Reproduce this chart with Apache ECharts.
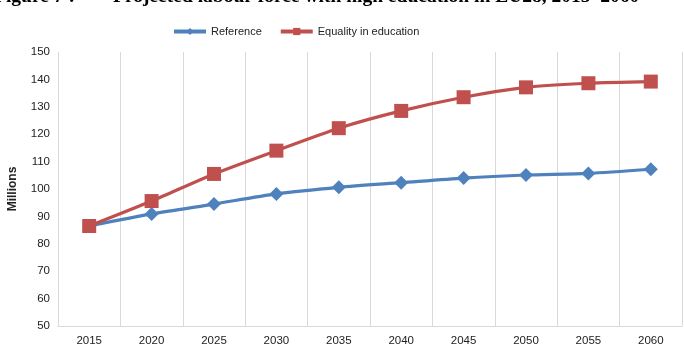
<!DOCTYPE html>
<html>
<head>
<meta charset="utf-8">
<script src="https://cdn.jsdelivr.net/npm/echarts@6/dist/echarts.min.js"></script>
<style>
  html, body { margin: 0; padding: 0; background: #fff; }
  #chart { width: 684px; height: 354px; }
</style>
</head>
<body>
<div id="chart"></div>
<script>
// years on the x axis
var years = ['2015', '2020', '2025', '2030', '2035', '2040', '2045', '2050', '2055', '2060'];
// millions
var referenceVals = [86.5, 90.9, 94.5, 98.2, 100.6, 102.3, 104.0, 105.1, 105.7, 107.2];
var equalityVals = [86.5, 95.6, 105.5, 114.0, 122.2, 128.5, 133.5, 137.1, 138.6, 139.2];

var chart = echarts.init(document.getElementById('chart'));

var titleFont = 'bold 19.5px "Liberation Serif", "Times New Roman", serif';

var option = {
  animation: false,
  textStyle: { fontFamily: 'Liberation Sans, Arial, sans-serif' },
  // figure caption, cut off at the top of the picture
  graphic: [{
    type: 'text',
    left: -6,
    top: -13,
    style: { text: 'Figure 7 :', font: titleFont, fill: '#000' }
  }, {
    type: 'text',
    left: 113,
    top: -13,
    style: {
      text: 'Projected labour force with high education in EU28, 2015–2060',
      font: titleFont,
      fill: '#000'
    }
  }],
  legend: {
    top: 21,
    left: 167,
    itemGap: 17,
    itemWidth: 32,
    itemHeight: 9,
    lineStyle: { width: 4 },
    textStyle: { fontSize: 11, color: '#222', fontFamily: '"Liberation Sans Narrow", "Arial Narrow", sans-serif' },
    data: ['Reference', 'Equality in education']
  },
  grid: { left: 58, right: 2, top: 52, bottom: 28, outerBoundsMode: 'none' },
  xAxis: {
    type: 'category',
    data: years,
    boundaryGap: true,
    axisLine: { lineStyle: { color: '#d9d9d9', width: 1 } },
    axisTick: { show: false },
    axisLabel: { color: '#222', fontSize: 11.5, margin: 9 },
    splitLine: { show: true, lineStyle: { color: '#d9d9d9', width: 1 } }
  },
  yAxis: {
    type: 'value',
    min: 50,
    max: 150,
    interval: 10,
    name: 'Millions',
    nameLocation: 'middle',
    nameGap: 39,
    nameTextStyle: { fontWeight: 'bold', fontSize: 12, color: '#222' },
    axisLine: { show: true, lineStyle: { color: '#d9d9d9' } },
    axisTick: { show: false },
    axisLabel: { color: '#222', fontSize: 11.5, margin: 8 },
    splitLine: { show: false }
  },
  series: [
    {
      name: 'Reference',
      type: 'line',
      data: referenceVals,
      smooth: 0.25,
      symbol: 'diamond',
      symbolSize: 14,
      itemStyle: { color: '#4F81BD' },
      lineStyle: { width: 3.2, color: '#4F81BD' },
      z: 2
    },
    {
      name: 'Equality in education',
      type: 'line',
      data: equalityVals,
      smooth: 0.25,
      symbol: 'rect',
      symbolSize: 14,
      itemStyle: { color: '#C0504D' },
      lineStyle: { width: 3.2, color: '#C0504D' },
      z: 3
    }
  ]
};

chart.setOption(option);
</script>
</body>
</html>
